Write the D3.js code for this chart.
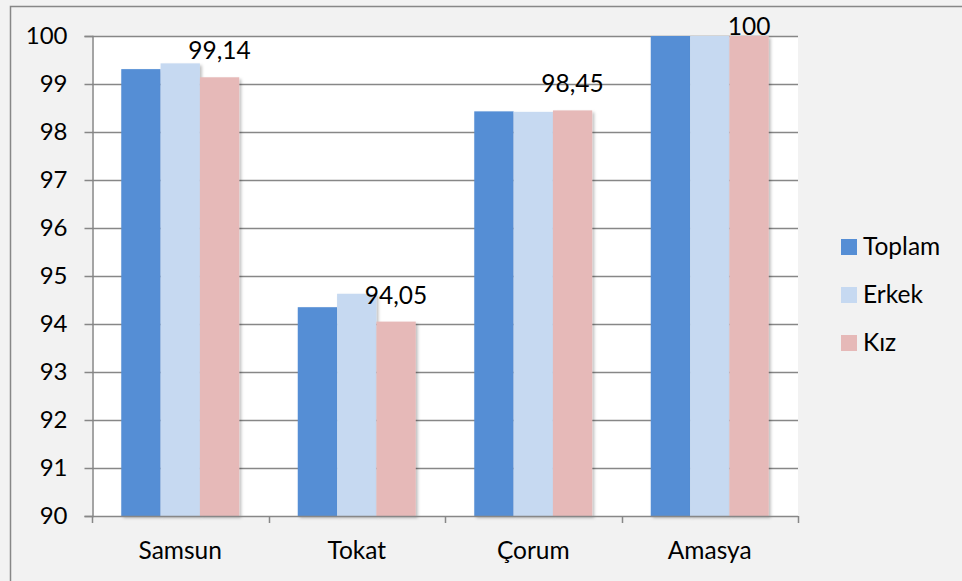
<!DOCTYPE html>
<html>
<head>
<meta charset="utf-8">
<script src="https://cdn.jsdelivr.net/npm/d3@7"></script>
<style>
  html, body { margin: 0; padding: 0; background: #f2f2f2; }
  svg { display: block; font-family: Lato, "Open Sans", sans-serif; }
</style>
</head>
<body>
<svg id="chart" width="962" height="581"></svg>
<script>
const categories = ["Samsun", "Tokat", "Çorum", "Amasya"];
const seriesNames = ["Toplam", "Erkek", "Kız"];
const toplam = [99.31, 94.35, 98.43, 100];
const erkek = [99.43, 94.63, 98.42, 100];
const kiz = [99.14, 94.05, 98.45, 100];
const kizLabels = ["99,14", "94,05", "98,45", "100"];
const yTicks = [90, 91, 92, 93, 94, 95, 96, 97, 98, 99, 100];
const colors = ["#558ed5", "#c6d9f1", "#e6b9b8"];

const seriesValues = [toplam, erkek, kiz];
const width = 962, height = 581;
const plot = { left: 92, right: 798, top: 36, bottom: 516 };
const gridColor = "#878787";
const labelSize = 24.5;

const svg = d3.select("#chart");

const defs = svg.append("defs");
const shadow = defs.append("filter").attr("id", "shadow")
    .attr("x", "-10%").attr("y", "-10%").attr("width", "130%").attr("height", "130%");
shadow.append("feDropShadow")
    .attr("dx", 2).attr("dy", 2).attr("stdDeviation", 1.5)
    .attr("flood-color", "#000").attr("flood-opacity", 0.25);

// outer frame
svg.append("rect").attr("x", 0).attr("y", 0).attr("width", width).attr("height", height).attr("fill", "#f2f2f2");
svg.append("path")
    .attr("d", `M10.5,${height} V6.5 H${width}`)
    .attr("fill", "none").attr("stroke", gridColor).attr("stroke-width", 1.5);

// plot area
svg.append("rect")
    .attr("x", plot.left).attr("y", plot.top)
    .attr("width", plot.right - plot.left).attr("height", plot.bottom - plot.top)
    .attr("fill", "#fff");

const y = d3.scaleLinear().domain([90, 100]).range([plot.bottom, plot.top]);
const x = d3.scaleBand().domain(categories).range([plot.left, plot.right]).padding(0);
const xInner = d3.scaleBand().domain(seriesNames).range([0, x.bandwidth()])
    .paddingInner(0).paddingOuter(0.744);

// gridlines
svg.append("g").selectAll("line")
    .data(yTicks.filter(t => t > 90))
    .join("line")
    .attr("x1", plot.left).attr("x2", plot.right)
    .attr("y1", d => Math.round(y(d)) + 0.5).attr("y2", d => Math.round(y(d)) + 0.5)
    .attr("stroke", gridColor).attr("stroke-width", 1.5);

// bars
const groups = svg.append("g").selectAll("g")
    .data(categories)
    .join("g")
    .attr("transform", d => `translate(${x(d)},0)`);

groups.selectAll("rect")
    .data((c, i) => seriesNames.map((s, j) => ({ s, j, v: seriesValues[j][i] })))
    .join("rect")
    .attr("x", d => xInner(d.s))
    .attr("width", xInner.bandwidth())
    .attr("y", d => y(d.v))
    .attr("height", d => y(90) - y(d.v))
    .attr("fill", d => colors[d.j])
    .attr("filter", "url(#shadow)");

// y axis
const yAxis = d3.axisLeft(y).tickValues(yTicks).tickSize(8).tickPadding(17).tickFormat(d3.format("d"));
const yg = svg.append("g").attr("transform", `translate(${plot.left + 0.5},0)`).call(yAxis);
yg.select(".domain").attr("stroke", gridColor).attr("stroke-width", 1.5);
yg.selectAll(".tick line").attr("stroke", gridColor).attr("stroke-width", 1.5);
yg.selectAll(".tick text").attr("font-size", 24).attr("fill", "#000")
    .attr("font-family", "Lato, sans-serif");

// x axis
svg.append("line")
    .attr("x1", plot.left).attr("x2", plot.right)
    .attr("y1", plot.bottom + 0.5).attr("y2", plot.bottom + 0.5)
    .attr("stroke", gridColor).attr("stroke-width", 1.5);
const boundaries = categories.map(c => x(c)).concat([x(categories[categories.length - 1]) + x.bandwidth()]);
svg.append("g").selectAll("line")
    .data(boundaries)
    .join("line")
    .attr("x1", d => Math.round(d) + 0.5).attr("x2", d => Math.round(d) + 0.5)
    .attr("y1", plot.bottom).attr("y2", plot.bottom + 7)
    .attr("stroke", gridColor).attr("stroke-width", 1.5);
svg.append("g").selectAll("text")
    .data(categories)
    .join("text")
    .attr("x", d => x(d) + x.bandwidth() / 2)
    .attr("y", 559)
    .attr("text-anchor", "middle")
    .attr("font-size", labelSize)
    .text(d => d);

// data labels (Kız only)
svg.append("g").selectAll("text")
    .data(categories)
    .join("text")
    .attr("x", d => x(d) + xInner("Kız") + xInner.bandwidth() / 2)
    .attr("y", (d, i) => Math.max(y(kiz[i]) - 18, plot.top - 1))
    .attr("text-anchor", "middle")
    .attr("font-size", labelSize)
    .text((d, i) => kizLabels[i]);

// legend
const legend = svg.append("g").attr("transform", "translate(841,239)");
const items = legend.selectAll("g")
    .data(seriesNames)
    .join("g")
    .attr("transform", (d, i) => `translate(0,${i * 48})`);
items.append("rect").attr("width", 16).attr("height", 16).attr("fill", (d, i) => colors[i]);
items.append("text").attr("x", 22).attr("y", 16).attr("font-size", labelSize).text(d => d);
</script>
</body>
</html>
